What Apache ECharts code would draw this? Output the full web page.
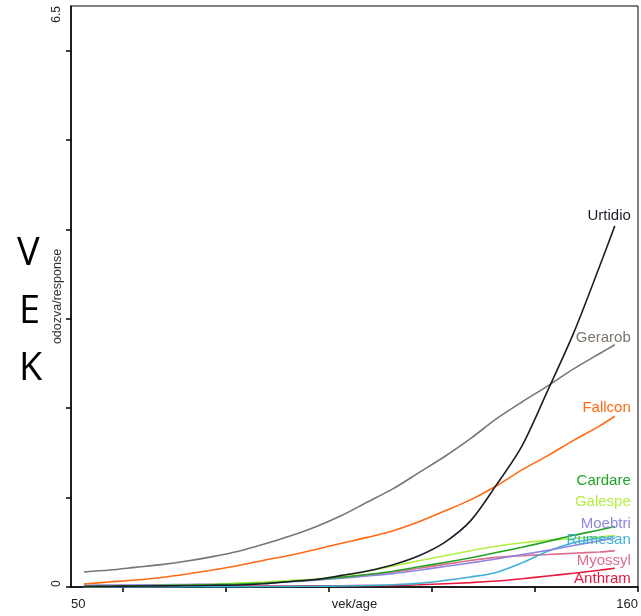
<!DOCTYPE html>
<html>
<head>
<meta charset="utf-8">
<script src="https://cdn.jsdelivr.net/npm/echarts@6/dist/echarts.min.js"></script>
<style>
  html, body { margin: 0; padding: 0; background: #fff; }
  #chart { width: 641px; height: 616px; }
</style>
</head>
<body>
<div id="chart"></div>
<script>
// Age grid shared by all curves (5-year steps, last point at 155.5)
var ages = [52.5, 57.5, 62.5, 67.5, 72.5, 77.5, 82.5, 87.5, 92.5, 97.5, 102.5,
            107.5, 112.5, 117.5, 122.5, 127.5, 132.5, 137.5, 142.5, 147.5, 152.5, 155.5];

// Response curves per species
var urtidio = [0.006, 0.008, 0.011, 0.013, 0.016, 0.019, 0.022, 0.036, 0.062, 0.084, 0.13,
               0.18, 0.25, 0.35, 0.50, 0.74, 1.14, 1.58, 2.20, 2.84, 3.58, 4.04];
var gerarob = [0.168, 0.19, 0.22, 0.25, 0.29, 0.34, 0.40, 0.48, 0.57, 0.675, 0.80,
               0.95, 1.10, 1.28, 1.46, 1.66, 1.88, 2.07, 2.25, 2.44, 2.61, 2.71];
var fallcon = [0.034, 0.056, 0.078, 0.107, 0.146, 0.19, 0.24, 0.30, 0.355, 0.42, 0.49,
               0.555, 0.63, 0.73, 0.85, 0.975, 1.13, 1.31, 1.47, 1.64, 1.80, 1.91];
var cardare = [0.006, 0.008, 0.011, 0.016, 0.02, 0.026, 0.034, 0.045, 0.062, 0.084, 0.11,
               0.14, 0.177, 0.226, 0.275, 0.325, 0.385, 0.445, 0.51, 0.578, 0.638, 0.676];
var galespe = [0.006, 0.008, 0.011, 0.017, 0.022, 0.03, 0.043, 0.056, 0.073, 0.09, 0.119,
               0.176, 0.235, 0.294, 0.35, 0.405, 0.455, 0.495, 0.522, 0.543, 0.561, 0.575];
var moebtri = [0.02, 0.021, 0.022, 0.025, 0.028, 0.031, 0.038, 0.046, 0.058, 0.075, 0.098,
               0.123, 0.15, 0.188, 0.229, 0.27, 0.314, 0.362, 0.41, 0.464, 0.517, 0.546];
var rumesan = [0, 0, 0, 0.001, 0.002, 0.003, 0.004, 0.005, 0.007, 0.009, 0.012,
               0.017, 0.025, 0.041, 0.072, 0.112, 0.163, 0.27, 0.40, 0.495, 0.548, 0.572];
var myossyl = [0.011, 0.013, 0.017, 0.02, 0.025, 0.03, 0.038, 0.049, 0.065, 0.085, 0.11,
               0.136, 0.167, 0.209, 0.253, 0.296, 0.331, 0.351, 0.364, 0.378, 0.392, 0.404];
var anthram = [0.004, 0.005, 0.006, 0.007, 0.008, 0.009, 0.01, 0.011, 0.012, 0.013, 0.014,
               0.016, 0.018, 0.026, 0.037, 0.049, 0.067, 0.093, 0.123, 0.154, 0.188, 0.21];

// Axis ticks and labels
var xTicks = [60, 80, 100, 120, 140, 160];
var xLabels = [50, 160];
var yTicks = [0, 1, 2, 3, 4, 5, 6];
var yLabels = [0, 6.5];

var curves = [
  { name: 'Anthram', data: anthram, color: '#e8193c', dy: 10.5 },
  { name: 'Myossyl', data: myossyl, color: '#dc6e8e', dy: 10 },
  { name: 'Rumesan', data: rumesan, color: '#3cb1d4', dy: 4 },
  { name: 'Moebtri', data: moebtri, color: '#8f86e2', dy: -14 },
  { name: 'Galespe', data: galespe, color: '#b2ef45', dy: -33.5 },
  { name: 'Cardare', data: cardare, color: '#23a324', dy: -46 },
  { name: 'Fallcon', data: fallcon, color: '#ff6a12', dy: -8 },
  { name: 'Gerarob', data: gerarob, color: '#7c756e', dy: -7 },
  { name: 'Urtidio', data: urtidio, color: '#1c1d2a', dy: -10 }
];

var FONT = 'Liberation Sans, Arial, sans-serif';

var series = curves.map(function (c) {
  return {
    name: c.name,
    type: 'line',
    smooth: 0.3,
    symbol: 'none',
    lineStyle: { color: c.color, width: 1.6 },
    data: ages.map(function (a, i) { return [a, c.data[i]]; }),
    endLabel: {
      show: true,
      formatter: '{a}',
      color: c.color,
      fontFamily: FONT,
      fontSize: 15,
      distance: 0,
      align: 'right',
      verticalAlign: 'middle',
      offset: [16, c.dy]
    },
    animation: false
  };
});

var chart = echarts.init(document.getElementById('chart'), null, { renderer: 'canvas' });
chart.setOption({
  backgroundColor: '#fff',
  animation: false,
  grid: {
    left: 71, right: 3, top: 6, bottom: 29,
    outerBoundsMode: 'none',
    containLabel: false,
    show: true, borderColor: '#000', borderWidth: 1, backgroundColor: 'transparent'
  },
  xAxis: {
    type: 'value',
    min: 50, max: 160,
    name: 'vek/age',
    nameLocation: 'middle',
    nameGap: 11,
    nameMoveOverlap: false,
    nameTextStyle: { fontFamily: FONT, fontSize: 13, color: '#222', verticalAlign: 'top' },
    axisLine: { show: true, onZero: false, lineStyle: { color: '#000', width: 1.5 } },
    axisTick: { show: true, length: 5, customValues: xTicks, lineStyle: { color: '#000', width: 1.5 } },
    axisLabel: {
      customValues: xLabels, margin: 11,
      fontFamily: FONT, fontSize: 13, color: '#222',
      alignMinLabel: 'left', alignMaxLabel: 'right'
    },
    splitLine: { show: false }
  },
  yAxis: {
    type: 'value',
    min: 0, max: 6.5,
    name: 'odozva/response',
    nameLocation: 'middle',
    nameGap: 7,
    nameMoveOverlap: false,
    nameTextStyle: { fontFamily: FONT, fontSize: 12.5, color: '#333' },
    axisLine: { show: true, onZero: false, lineStyle: { color: '#000', width: 1.5 } },
    axisTick: { show: true, length: 5, customValues: yTicks, lineStyle: { color: '#000', width: 1.5 } },
    axisLabel: {
      customValues: yLabels, rotate: 90, margin: 8,
      fontFamily: FONT, fontSize: 12, color: '#222',
      alignMinLabel: 'left', alignMaxLabel: 'right'
    },
    splitLine: { show: false }
  },
  graphic: [
    { type: 'text', left: 17, top: 235, style: { text: 'V', font: '38px "Open Sans", sans-serif', fill: '#000' } },
    { type: 'text', left: 19, top: 293, style: { text: 'E', font: '38px "Open Sans", sans-serif', fill: '#000' } },
    { type: 'text', left: 19, top: 350, style: { text: 'K', font: '38px "Open Sans", sans-serif', fill: '#000' } }
  ],
  series: series
});
</script>
</body>
</html>
